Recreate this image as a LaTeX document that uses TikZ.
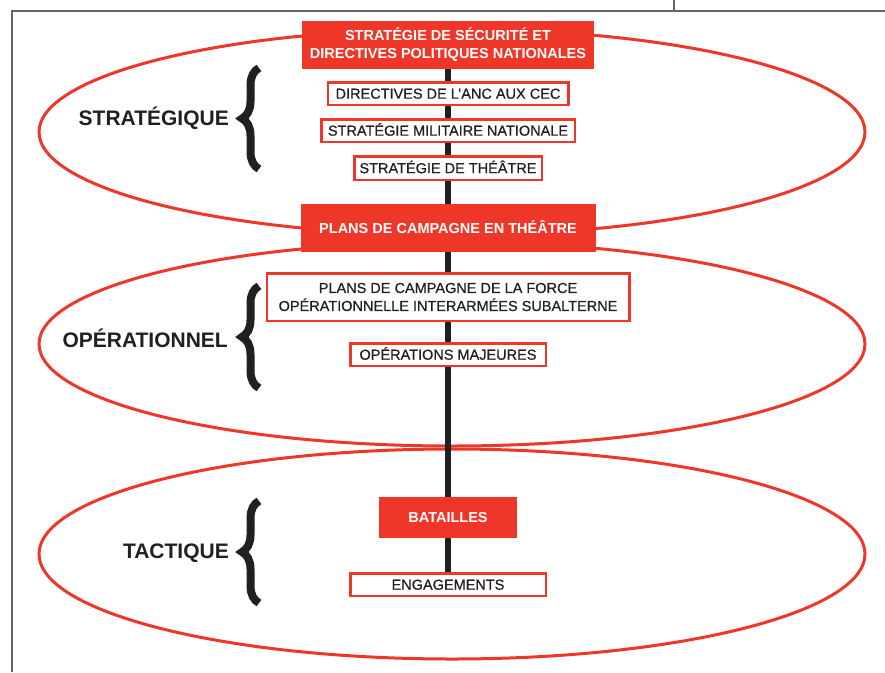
\documentclass[tikz,border=0pt]{standalone}
\usepackage{fontspec}
\setmainfont{Liberation Sans}
\newfontfamily\boxfont[FakeBold=0.6]{Liberation Sans}
\usetikzlibrary{backgrounds, decorations.pathreplacing}
\definecolor{rouge}{RGB}{238,54,41}
\definecolor{encre}{RGB}{35,31,32}

\begin{document}
\begin{tikzpicture}[x=1pt, y=-1pt,
		redbox/.style={rectangle, fill=rouge, text=white, inner sep=0pt, align=center, font=\fontsize{14.5}{18}\selectfont\bfseries},
		whitebox/.style={rectangle, draw=rouge, line width=2.5pt, fill=white, text=encre, inner sep=0pt, align=center, font=\fontsize{14.5}{18}\selectfont\boxfont},
		oneline/.style={text height=10.4pt, text depth=0pt},
		level/.style={anchor=east, inner sep=0pt, text=encre, font=\fontsize{21}{24}\selectfont\bfseries},
		ring/.style={draw=rouge, line width=3pt},
		spine/.style={draw=encre, line width=6.5pt},
		bracket/.style={draw=encre, line width=8pt, decorate, decoration={brace, amplitude=17pt}},
		frame/.style={draw=black!60, line width=2pt}]
		\useasboundingbox (0,0) rectangle (885,672);
		
		% chaine centrale
		\node[redbox, minimum width=292pt, minimum height=48pt] (secu) at (448,44.5) {STRATÉGIE DE SÉCURITÉ ET\\DIRECTIVES POLITIQUES NATIONALES};
		\node[whitebox, oneline, minimum width=240.5pt, minimum height=22.5pt] (anc) at (448,93.5) {DIRECTIVES DE L’ANC AUX CEC};
		\node[whitebox, oneline, minimum width=253.5pt, minimum height=22.5pt] (msn) at (448,130.5) {STRATÉGIE MILITAIRE NATIONALE};
		\node[whitebox, oneline, minimum width=187.5pt, minimum height=23.5pt] (theatre) at (448,168) {STRATÉGIE DE THÉÂTRE};
		\node[redbox, oneline, minimum width=295pt, minimum height=48pt] (plans) at (448,228) {PLANS DE CAMPAGNE EN THÉÂTRE};
		\node[whitebox, minimum width=362.5pt, minimum height=47.5pt] (force) at (448,297) {PLANS DE CAMPAGNE DE LA FORCE\\OPÉRATIONNELLE INTERARMÉES SUBALTERNE};
		\node[whitebox, oneline, minimum width=195.5pt, minimum height=22.5pt] (majeures) at (448,354.5) {OPÉRATIONS MAJEURES};
		\node[redbox, oneline, minimum width=138pt, minimum height=41pt] (batailles) at (448,517.5) {BATAILLES};
		\node[whitebox, oneline, minimum width=195.5pt, minimum height=22.5pt] (engage) at (448,584.5) {ENGAGEMENTS};
		
		% niveaux
		\node[level] (strat) at (229,118) {STRATÉGIQUE};
		\node[level] (opera) at (228,338) {OPÉRATIONNEL};
		\node[level] (tact) at (229,553) {TACTIQUE};
		
		\coordinate (stratTop) at (259,68);
		\coordinate (stratBot) at (259,169);
		\coordinate (operaTop) at (259,286);
		\coordinate (operaBot) at (259,388);
		\coordinate (tactTop) at (259,501);
		\coordinate (tactBot) at (259,603);
		
		\draw[bracket] (stratBot) -- (stratTop);
		\draw[bracket] (operaBot) -- (operaTop);
		\draw[bracket] (tactBot) -- (tactTop);
		
		\begin{scope}[on background layer]
			\draw[ring] (452,132) ellipse [x radius=413, y radius=103];
			\draw[ring] (452,344) ellipse [x radius=413, y radius=102];
			\draw[ring] (452,554) ellipse [x radius=413, y radius=105];
			
			\draw[spine] (secu) -- (anc) -- (msn) -- (theatre) -- (plans) -- (force) -- (majeures) -- (batailles) -- (engage);
		\end{scope}
		
		\draw[frame] (12,672) -- (12,11) -- (885,11);
		\draw[frame] (674,0) -- (674,11);
	\end{tikzpicture}
\end{document}
